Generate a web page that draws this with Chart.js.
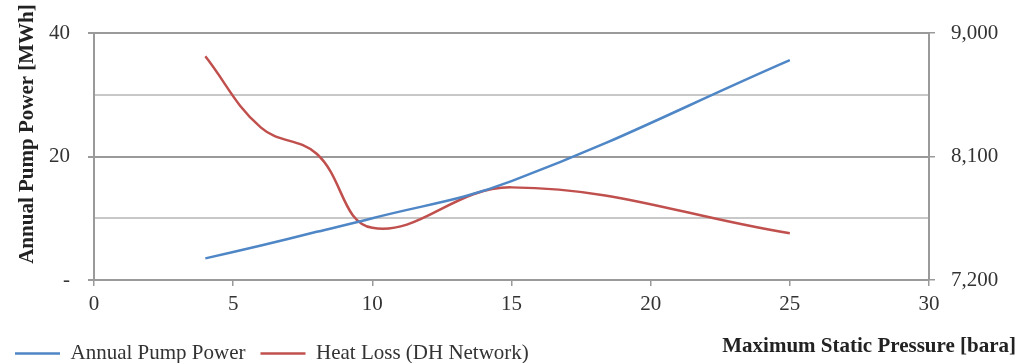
<!DOCTYPE html>
<html>
<head>
<meta charset="utf-8">
<script src="https://cdn.jsdelivr.net/npm/chart.js@4"></script>
<style>
  html, body { margin: 0; padding: 0; background: #fff; }
  #wrap { width: 1024px; height: 363px; }
</style>
</head>
<body>
<div id="wrap"><canvas id="chart" width="1024" height="363"></canvas></div>
<script>
// values
const pressure = [4, 6, 8, 10, 15, 25];               // bara
const pumpPower = [3.5, 5.6, 7.8, 10.0, 16.0, 35.6];  // MWh (left axis)
const heatLoss = [8830, 8310, 8120, 7580, 7875, 7540]; // right axis
const xTicks = [0, 5, 10, 15, 20, 25, 30];
const rightTicks = [7200, 8100, 9000];

const serif = '"Liberation Serif", "Times New Roman", serif';
const BLUE = '#4f86c6';
const RED = '#c0504d';

// axis titles drawn by hand: the x title shares the legend row,
// the y title sits a bit above the plot centre
const titles = {
    id: 'titles',
    afterLayout(chart){
        // push the legend row down to the bottom edge
        if(chart.legend){ chart.legend.top += 11; chart.legend.bottom += 11; }
    },
    afterDraw(chart){
        const c = chart.ctx;
        c.save();
        c.font = 'bold 21px ' + serif;
        c.fillStyle = '#222';
        c.textBaseline = 'middle';
        c.textAlign = 'right';
        c.fillText('Maximum Static Pressure [bara]', 1016, 347);
        c.translate(28, 134);
        c.rotate(-Math.PI / 2);
        c.textAlign = 'center';
        c.fillText('Annual Pump Power [MWh]', 0, 0);
        c.restore();
    }
};

new Chart(document.getElementById('chart').getContext('2d'), {
    type: 'line',
    data: {
        datasets: [{
            label: 'Annual Pump Power',
            data: pressure.map((x, i) => ({x: x, y: pumpPower[i]})),
            borderColor: BLUE,
            backgroundColor: BLUE,
            borderWidth: 2.5,
            pointRadius: 0,
            tension: 0.4,
            yAxisID: 'y'
        }, {
            label: 'Heat Loss (DH Network)',
            data: pressure.map((x, i) => ({x: x, y: heatLoss[i]})),
            borderColor: RED,
            backgroundColor: RED,
            borderWidth: 2.5,
            pointRadius: 0,
            tension: 0.4,
            yAxisID: 'y2'
        }]
    },
    options: {
        responsive: false,
        animation: false,
        layout: { padding: { top: 33, left: 0, right: 0, bottom: 0 } },
        plugins: {
            tooltip: { enabled: false },
            legend: {
                position: 'bottom',
                align: 'start',
                labels: {
                    usePointStyle: true,
                    pointStyle: 'line',
                    pointStyleWidth: 45,
                    padding: 15,
                    color: '#333',
                    font: { family: serif, size: 21 }
                }
            }
        },
        scales: {
            x: {
                type: 'linear',
                min: 0, max: 30,
                afterBuildTicks(scale){ scale.ticks = xTicks.map(v => ({value: v})); },
                afterFit(scale){ scale.height = 37; },
                border: { color: '#9a9a9a', width: 2 },
                grid: { drawOnChartArea: false, tickLength: 6, color: '#9a9a9a', lineWidth: 1.5 },
                ticks: { color: '#333', padding: 6, font: { family: serif, size: 21 } }
            },
            y: {
                position: 'left',
                min: 0, max: 40,
                ticks: {
                    stepSize: 10,
                    color: '#333',
                    padding: 18,
                    font: { family: serif, size: 21 },
                    callback: v => v === 0 ? '-' : (v % 20 === 0 ? v : '')
                },
                afterFit(scale){ scale.width = 94; },
                border: { color: '#9a9a9a', width: 2 },
                grid: {
                    tickLength: 6,
                    color: c => c.tick.value % 20 === 0 ? '#9a9a9a' : '#c8c8c8',
                    tickColor: c => c.tick.value % 20 === 0 ? '#9a9a9a' : 'rgba(0,0,0,0)',
                    lineWidth: 2
                }
            },
            y2: {
                position: 'right',
                min: 7200, max: 9000,
                afterBuildTicks(scale){ scale.ticks = rightTicks.map(v => ({value: v})); },
                afterFit(scale){ scale.width = 95; },
                border: { color: '#9a9a9a', width: 2 },
                grid: { drawOnChartArea: false, tickLength: 6, color: '#9a9a9a', lineWidth: 1.5 },
                ticks: {
                    color: '#333',
                    padding: 16,
                    font: { family: serif, size: 21 },
                    callback: v => v.toLocaleString('en-US')
                }
            }
        }
    },
    plugins: [titles]
});
</script>
</body>
</html>
